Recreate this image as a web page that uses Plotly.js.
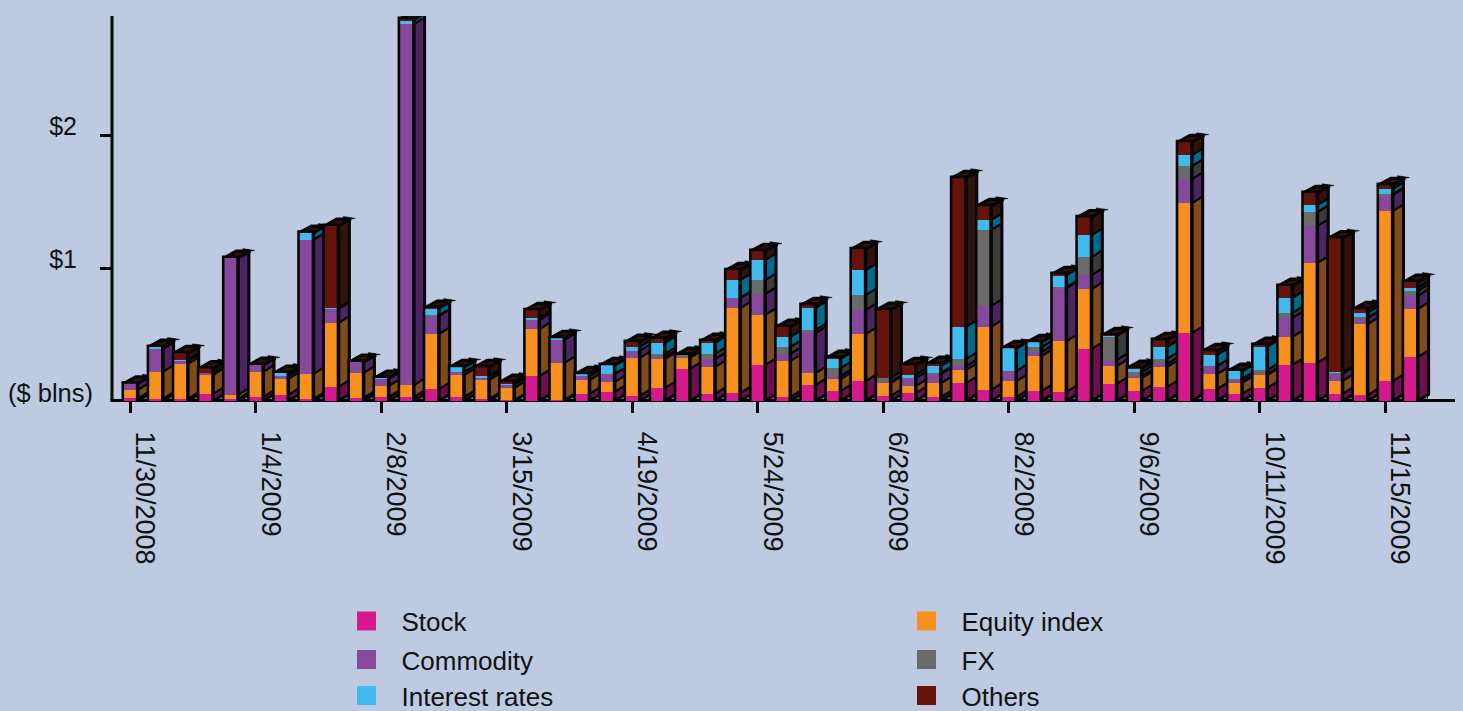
<!DOCTYPE html>
<html>
<head>
<meta charset="utf-8">
<script src="https://cdn.plot.ly/plotly-3.0.1.min.js"></script>
<style>html,body{margin:0;padding:0;background:#bec9e2;overflow:hidden}</style>
</head>
<body>
<div id="chart" style="width:1463px;height:711px"></div>
<script>
// Weekly notional traded, $ blns, one value per week from 11/30/2008
const stock = [.019,.016,.016,.053,.016,.031,.046,.016,.106,.023,.030,.030,.090,.030,.015,.004,.188,.008,.053,.068,.038,.098,.241,.053,.060,.271,.030,.120,.075,.150,.038,.060,.030,.135,.083,.030,.075,.068,.391,.128,.075,.105,.511,.090,.053,.098,.271,.286,.053,.045,.150,.331];
const equityIndex = [.064,.203,.263,.143,.030,.188,.120,.188,.481,.188,.083,.090,.414,.165,.143,.094,.353,.278,.105,.075,.286,.218,.083,.203,.639,.376,.271,.090,.090,.353,.098,.053,.105,.098,.474,.120,.263,.383,.451,.135,.098,.150,.977,.113,.083,.098,.211,.752,.098,.534,1.278,.361];
const commodity = [.049,.173,.023,.015,1.030,.053,.023,1.008,.105,.083,.053,2.714,.135,.023,.015,.023,.068,.173,.030,.060,.053,.015,0,.060,.075,.158,.053,.301,.023,.180,.008,.060,.068,.030,.158,.075,.030,.398,.105,.045,.015,.023,.180,.060,.023,.008,.143,.278,.053,.045,.120,.098];
const fx = [0,0,0,0,0,0,0,0,0,0,0,0,.004,0,0,0,0,0,0,0,0,.023,.023,.038,0,.105,.053,.023,.060,.113,.030,0,.008,.053,.571,0,.038,.008,.135,.180,.030,.038,.098,0,.008,.030,.038,.105,.008,.004,.008,.038];
const interestRates = [0,.015,.008,0,0,0,.023,.053,.008,0,.008,.030,.053,.038,.015,.008,.015,.015,.015,.068,.030,.083,0,.083,.135,.150,.075,.165,.068,.188,0,.023,.053,.241,.075,.173,.038,.090,.165,.004,.023,.090,.083,.083,.060,.173,.113,.053,.004,.034,.038,.023];
const others = [0,0,.050,.035,0,0,0,0,.617,0,0,.008,.004,0,.068,.015,.060,0,0,0,.038,.030,0,.015,.075,.068,.075,.023,.008,.158,.511,.075,.015,1.120,.105,0,0,.008,.135,.004,.008,.053,.098,.030,0,.015,.090,.090,1.008,.030,.030,.045];
const tickLabels = ["11/30/2008","1/4/2009","2/8/2009","3/15/2009","4/19/2009","5/24/2009","6/28/2009","8/2/2009","9/6/2009","10/11/2009","11/15/2009"];

const seriesNames = ["Stock","Equity index","Commodity","FX","Interest rates","Others"];
const seriesValues = [stock,equityIndex,commodity,fx,interestRates,others];
const frontColors = ["#d5198c","#f7901e","#87499c","#6a6a6a","#41bbee","#66140b"];
const sideColors = ["#6d0f4f","#7f4b1c","#4c2464","#3a3c3a","#006a8c","#33120d"];
const topColor = "#33120d";
const background = "#bec9e2";
const ink = "#050505";
const FONT = "Liberation Sans, Arial, sans-serif";

// Pixel layout of the plot area and the axis scales derived from it
const W = 1463, H = 711, L = 112, R = 1455, T = 16, B = 401;
const pxPerWeek = 25.1, pxPerUnit = 133;
const xRange = [(L-130)/pxPerWeek, (R-130)/pxPerWeek];
const yRange = [0, (B-T)/pxPerUnit];
const px = v => v/pxPerWeek, py = v => v/pxPerUnit;

// Extrusion of each column, expressed in axis units
const halfW = px(6.3), depthX = px(12.2), depthY = py(6.7), seam = px(1.4);

const weeks = stock.map((_, i) => i);
const totals = weeks.map(i => seriesValues.reduce((s, a) => s + a[i], 0));
const traces = [];
const furniture = {type:"scatter", hoverinfo:"skip", showlegend:false, cliponaxis:false};

// Receding side faces, one filled trace per series
seriesValues.forEach((vals, k) => {
  const xs = [], ys = [];
  weeks.forEach(i => {
    if (!vals[i]) return;
    let base = 0;
    for (let j = 0; j < k; j++) base += seriesValues[j][i];
    const x0 = i + halfW + seam, x1 = i + halfW + depthX, top = base + vals[i];
    xs.push(x0, x1, x1, x0, x0, null);
    ys.push(base, base + depthY, top + depthY, top, base, null);
  });
  traces.push({...furniture, mode:"lines", x:xs, y:ys, fill:"toself", fillcolor:sideColors[k],
    line:{color:ink, width:2.1}, zorder:0});
});

// Light wedge of floor showing beneath each side face
(function () {
  const xs = [], ys = [];
  weeks.forEach(i => {
    const x0 = i + halfW + seam + px(3), x1 = i + halfW + depthX - px(1);
    xs.push(x0, x1, x1, x0, null);
    ys.push(py(2), py(2), depthY - py(0.8), py(2), null);
  });
  traces.push({...furniture, mode:"lines", x:xs, y:ys, fill:"toself", fillcolor:"#dfe3ee",
    line:{color:ink, width:0.8}, zorder:0});
})();

// Top faces
(function () {
  const xs = [], ys = [];
  weeks.forEach(i => {
    const a = i - halfW, b = i + halfW + seam, t = totals[i];
    xs.push(a, a + depthX, b + depthX, b, a, null);
    ys.push(t, t + depthY, t + depthY, t, t, null);
  });
  traces.push({...furniture, mode:"lines", x:xs, y:ys, fill:"toself", fillcolor:topColor,
    line:{color:ink, width:3.2}, zorder:0});
})();

// Sharp spur at the rear corner of each top face
(function () {
  const xs = [], ys = [];
  weeks.forEach(i => {
    const b = i + halfW + depthX, t = totals[i] + depthY;
    xs.push(b - px(6), b + px(6), b - px(6), b - px(6), null);
    ys.push(t + py(2.6), t + py(0.8), t - py(1.2), t + py(2.6), null);
  });
  traces.push({...furniture, mode:"lines", x:xs, y:ys, fill:"toself", fillcolor:ink,
    line:{color:ink, width:0.5}, zorder:0});
})();

// Rear edge and lower edge of the side faces
(function () {
  const xs = [], ys = [];
  weeks.forEach(i => {
    const b = i + halfW + seam, e = i + halfW + depthX, t = totals[i];
    xs.push(b, e, e, null);
    ys.push(0, depthY, t + depthY, null);
  });
  traces.push({...furniture, mode:"lines", x:xs, y:ys, line:{color:ink, width:3}, zorder:0});
})();

// Front faces: the stacked columns themselves
seriesValues.forEach((vals, k) => {
  traces.push({type:"bar", name:seriesNames[k], x:weeks, y:vals, width:2*halfW,
    marker:{color:frontColors[k], line:{width:0}}, showlegend:false, zorder:1,
    hovertemplate:seriesNames[k]+": $%{y:.2f} bln<extra></extra>"});
});

// Dark frame around each front face
(function () {
  const xs = [], ys = [];
  weeks.forEach(i => {
    const a = i - halfW - px(0.9), b = i + halfW + px(0.9), c = b + seam*0.7, t = totals[i] + py(1.1);
    xs.push(a, a, b, b, null, c, c, null);
    ys.push(py(0.6), t, t, py(0.6), null, py(0.6), t, null);
  });
  traces.push({...furniture, mode:"lines", x:xs, y:ys, line:{color:ink, width:2.6}, zorder:2});
})();

// Key entries, each placed on its own legend so rows and columns can be set exactly
const legendSlots = [[0,331.5,621],[1,891.5,621],[2,331.5,659.5],[3,891.5,659.5],[4,331.5,695.5],[5,891.5,695.5]];
const legends = {};
legendSlots.forEach(([k, lx, ly], n) => {
  const id = n === 0 ? "legend" : "legend" + (n + 1);
  traces.push({type:"scatter", mode:"markers", x:[null], y:[null], name:seriesNames[k], legend:id, showlegend:true,
    marker:{symbol:"square", size:16, color:frontColors[k], line:{width:3, color:frontColors[k]}}, hoverinfo:"skip"});
  legends[id] = {xref:"container", yref:"container", x:lx/W, y:1-ly/H, xanchor:"left", yanchor:"middle",
    bgcolor:"rgba(0,0,0,0)", borderwidth:0, itemclick:false, itemdoubleclick:false,
    font:{family:FONT, size:26, color:"#111111"}, itemwidth:60};
});

// Axis lines sit behind the columns so the bars overlap the baseline
const axisLines = [
  {type:"line", layer:"below", xref:"paper", yref:"paper", x0:-1.5/(R-L), x1:1, y0:0.5/(B-T), y1:0.5/(B-T), line:{color:ink, width:3}},
  {type:"line", layer:"below", xref:"paper", yref:"paper", x0:0, x1:0, y0:0, y1:1, line:{color:ink, width:3}}
];

const layout = Object.assign({
  width:W, height:H, paper_bgcolor:background, plot_bgcolor:background,
  margin:{l:L, r:W-R, t:T, b:H-B, pad:0, autoexpand:false},
  barmode:"stack", bargap:0,
  font:{family:FONT, size:25, color:"#111111"},
  shapes:axisLines,
  xaxis:{type:"linear", range:xRange, showgrid:false, zeroline:false, showline:true, linecolor:ink, linewidth:1,
    ticks:"outside", ticklen:11, tickwidth:3, tickcolor:ink, tickmode:"array",
    tickvals:tickLabels.map((_, n) => n*5), ticktext:tickLabels, tickangle:90, tickfont:{size:27}, ticklabelstandoff:13, ticklabelshift:15},
  yaxis:{range:yRange, showgrid:false, zeroline:false, showline:true, linecolor:ink, linewidth:1,
    ticks:"outside", ticklen:11, tickwidth:3, tickcolor:ink, tickmode:"array",
    tickvals:[1,2], ticktext:["$1","$2"], ticklabelstandoff:18, ticklabelshift:-9},
  annotations:[{text:"($ blns)", xref:"paper", yref:"paper", x:(50-L)/(R-L), y:(B-393)/(B-T), xanchor:"center", yanchor:"middle",
    showarrow:false, font:{family:FONT, size:25.5, color:"#111111"}}]
}, legends);

Plotly.newPlot("chart", traces, layout, {displayModeBar:false, staticPlot:false});
</script>
</body>
</html>
